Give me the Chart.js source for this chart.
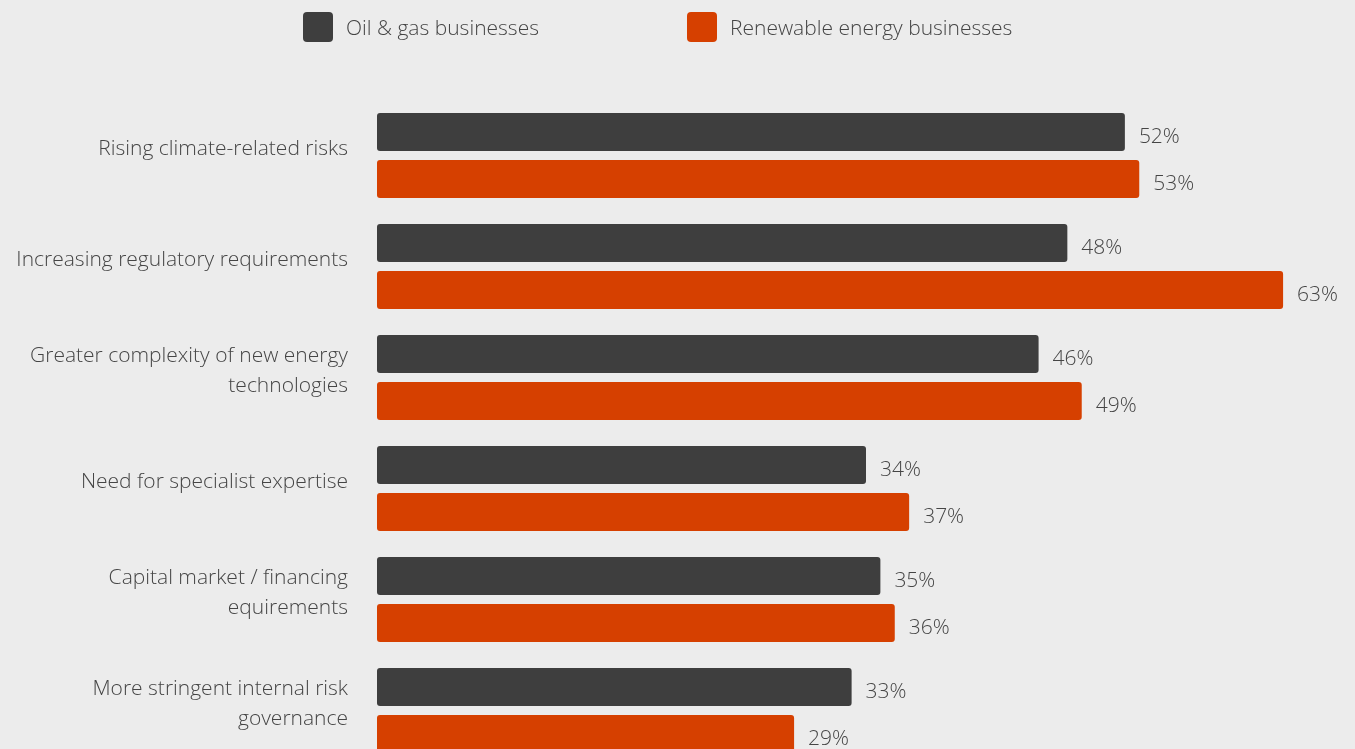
<!DOCTYPE html>
<html>
<head>
<meta charset="utf-8">
<script src="https://cdn.jsdelivr.net/npm/chart.js@4.4.1/dist/chart.umd.min.js"></script>
<style>
    html, body {
        margin: 0;
        padding: 0;
        background: #ececec;
        overflow: hidden;
        width: 1355px;
        height: 749px;
    }
    #wrap {
        position: relative;
        width: 1355px;
        height: 770px;
    }
    .legend {
        position: absolute;
        top: 12px;
        height: 30px;
        display: flex;
        align-items: center;
        font-family: "Open Sans", sans-serif;
        font-weight: 300;
        font-size: 21px;
        color: #444;
        white-space: nowrap;
    }
    .legend .box {
        width: 30px;
        height: 30px;
        border-radius: 4px;
        margin-right: 13px;
    }
</style>
</head>
<body>
<div id="wrap">
    <canvas id="risks"></canvas>
</div>
<script>
// ============================================
// DONNÉES
// ============================================

const categories = [
    'Rising climate-related risks',
    'Increasing regulatory requirements',
    ['Greater complexity of new energy', 'technologies'],
    'Need for specialist expertise',
    ['Capital market / financing', 'equirements'],
    ['More stringent internal risk', 'governance']
];

const seriesNames = ['Oil & gas businesses', 'Renewable energy businesses'];
const seriesColors = ['#3e3e3e', '#d64000'];

const oilGas = [52, 48, 46, 34, 35, 33];
const renewables = [53, 63, 49, 37, 36, 29];

const TEXT_COLOR = '#454545';
const FONT = '"Open Sans", sans-serif';

// ============================================
// LÉGENDE
// ============================================

const legendX = [303, 687];
seriesNames.forEach((name, i) => {
    const item = document.createElement('div');
    item.className = 'legend';
    item.style.left = legendX[i] + 'px';
    item.innerHTML = `<div class="box" style="background:${seriesColors[i]}"></div><span>${name}</span>`;
    document.getElementById('wrap').appendChild(item);
});

// ============================================
// ÉTIQUETTES DE VALEUR
// ============================================

const valueLabels = {
    id: 'valueLabels',
    afterDatasetsDraw(chart) {
        const ctx = chart.ctx;
        ctx.save();
        ctx.font = `300 21px ${FONT}`;
        ctx.fillStyle = TEXT_COLOR;
        ctx.textAlign = 'left';
        ctx.textBaseline = 'middle';
        chart.data.datasets.forEach((ds, di) => {
            chart.getDatasetMeta(di).data.forEach((bar, i) => {
                ctx.fillText(ds.data[i] + '%', bar.x + 14, bar.y + 5);
            });
        });
        ctx.restore();
    }
};

// ============================================
// GRAPHIQUE
// ============================================

new Chart(document.getElementById('risks'), {
    type: 'bar',
    data: {
        labels: categories,
        datasets: [
            {
                label: seriesNames[0],
                data: oilGas,
                backgroundColor: seriesColors[0],
                borderRadius: 3,
                borderSkipped: false,
                categoryPercentage: 0.847,
                barPercentage: 0.8085
            },
            {
                label: seriesNames[1],
                data: renewables,
                backgroundColor: seriesColors[1],
                borderRadius: 3,
                borderSkipped: false,
                categoryPercentage: 0.847,
                barPercentage: 0.8085
            }
        ]
    },
    plugins: [valueLabels],
    options: {
        indexAxis: 'y',
        responsive: true,
        maintainAspectRatio: false,
        animation: false,
        layout: {
            padding: { top: 100, bottom: 4, left: 0, right: 0 }
        },
        plugins: {
            legend: { display: false },
            tooltip: { enabled: false }
        },
        scales: {
            x: {
                display: false,
                min: 0,
                max: 68
            },
            y: {
                // largeur fixe, sans marge auto pour les libellés sur deux lignes
                afterFit: (scale) => {
                    scale.width = 377;
                    scale.paddingTop = 0;
                    scale.paddingBottom = 0;
                },
                grid: { display: false },
                border: { display: false },
                ticks: {
                    padding: 21,
                    labelOffset: -6,
                    color: TEXT_COLOR,
                    font: { family: FONT, size: 21, weight: '300', lineHeight: 1.43 }
                }
            }
        }
    }
});
</script>
</body>
</html>
